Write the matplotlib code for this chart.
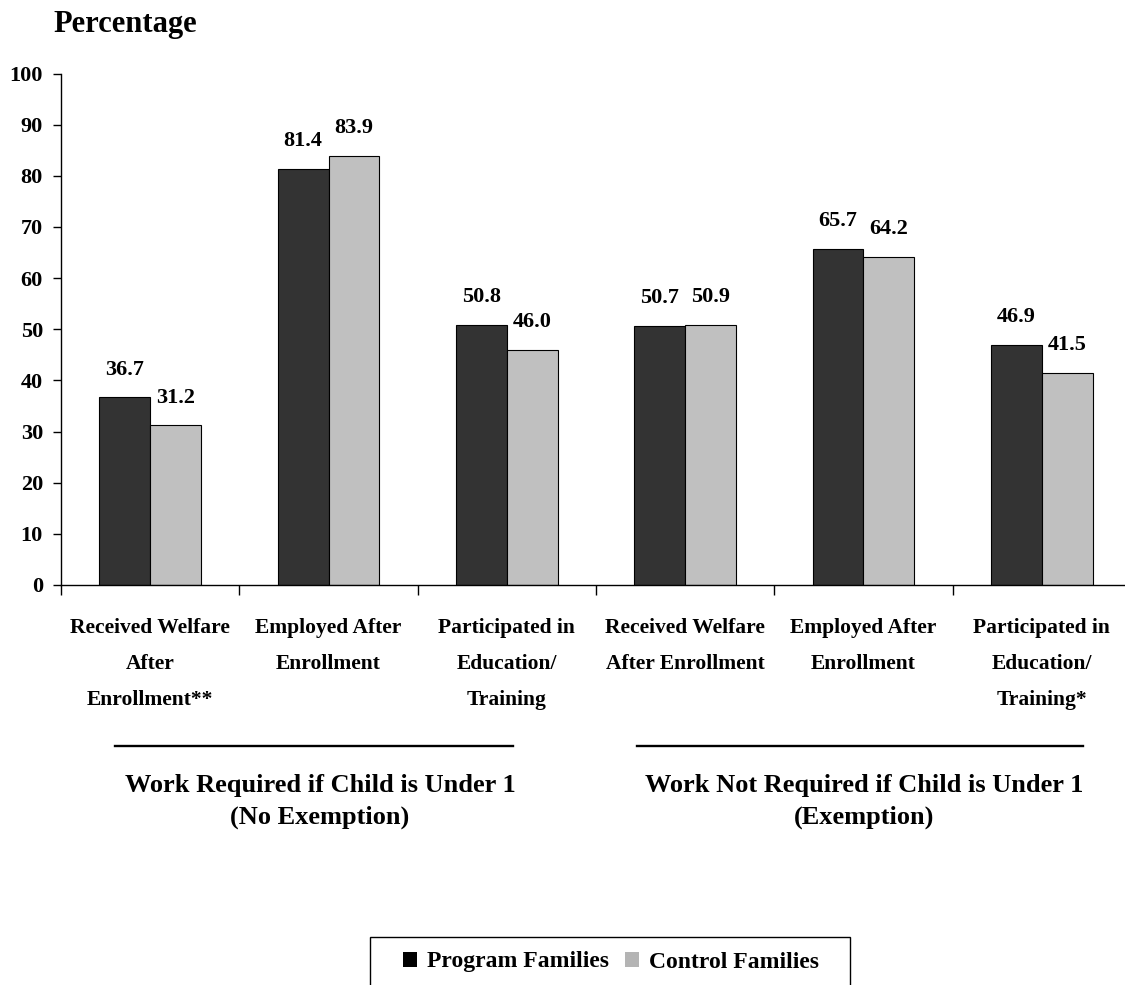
import matplotlib.pyplot as plt
import numpy as np
from matplotlib.patches import Patch, Rectangle
from matplotlib.lines import Line2D

plt.rcParams['font.family'] = ['Liberation Serif', 'DejaVu Serif']
plt.rcParams['font.weight'] = 'bold'

categories = ['Received Welfare\nAfter\nEnrollment**', 'Employed After\nEnrollment',
              'Participated in\nEducation/\nTraining', 'Received Welfare\nAfter Enrollment',
              'Employed After\nEnrollment', 'Participated in\nEducation/\nTraining*']
program = [36.7, 81.4, 50.8, 50.7, 65.7, 46.9]
control = [31.2, 83.9, 46.0, 50.9, 64.2, 41.5]
groups = ['Work Required if Child is Under 1\n(No Exemption)',
          'Work Not Required if Child is Under 1\n(Exemption)']
series = ['Program Families', 'Control Families']

W, H = 1125, 985
fig = plt.figure(figsize=(W / 100, H / 100), dpi=100)
# axis spans 61px -> 1131px (runs a bit past the right edge, as in the original)
ax = fig.add_axes([61 / W, 400 / H, 1070 / W, 511.5 / H])

x = np.arange(len(categories))
width = 0.285
b1 = ax.bar(x - width / 2, program, width, color='#333333', edgecolor='black', linewidth=0.8)
b2 = ax.bar(x + width / 2, control, width, color='#c0c0c0', edgecolor='black', linewidth=0.8)

for bars, vals in ((b1, program), (b2, control)):
    for rect, v in zip(bars, vals):
        ax.annotate('%.1f' % v, (rect.get_x() + rect.get_width() / 2, v),
                    xytext=(0, 20), textcoords='offset points',
                    ha='center', va='center', fontsize=16)

ax.set_xlim(-0.5, len(categories) - 0.5)
ax.set_ylim(0, 100)
ax.set_yticks(np.arange(0, 101, 10))
ax.tick_params(axis='y', direction='out', length=6, width=1, pad=7, labelsize=16)

# boundary ticks (major) and centred labels (minor)
ax.set_xticks(np.arange(len(categories) + 1) - 0.5)
ax.set_xticklabels([])
ax.tick_params(axis='x', which='major', direction='out', length=7, width=1)
ax.set_xticks(x, minor=True)
ax.set_xticklabels(categories, minor=True, fontsize=15.5, linespacing=2.05, va='top')
ax.tick_params(axis='x', which='minor', length=0, pad=24)

for s in ('top', 'right'):
    ax.spines[s].set_visible(False)
ax.spines['left'].set_linewidth(1)
ax.spines['bottom'].set_linewidth(1)

fig.text(53 / W, 1 - 32 / H, 'Percentage', fontsize=22, va='baseline', ha='left')

# group brackets + titles
for (x0, x1, cx), g in zip(((115, 513, 320), (637, 1083, 864)), groups):
    fig.add_artist(Line2D([x0 / W, x1 / W], [1 - 746 / H] * 2, color='black', lw=1.7))
    fig.text(cx / W, 1 - 801.5 / H, g, fontsize=19, ha='center', va='center', linespacing=1.47)

# legend with its own box
fig.add_artist(Rectangle((370 / W, -0.02), 480 / W, 0.02 + 48 / H, transform=fig.transFigure,
                         fill=False, edgecolor='black', lw=1))
handles = [Patch(facecolor='black', edgecolor='none'), Patch(facecolor='#b4b4b4', edgecolor='none')]
fig.legend(handles, series, loc='center', bbox_to_anchor=(611 / W, 1 - 962 / H), ncol=2,
           frameon=False, fontsize=17, handlelength=0.6, handleheight=0.6,
           handletextpad=0.4, columnspacing=0.7)

fig.savefig('out.png', dpi=100)
